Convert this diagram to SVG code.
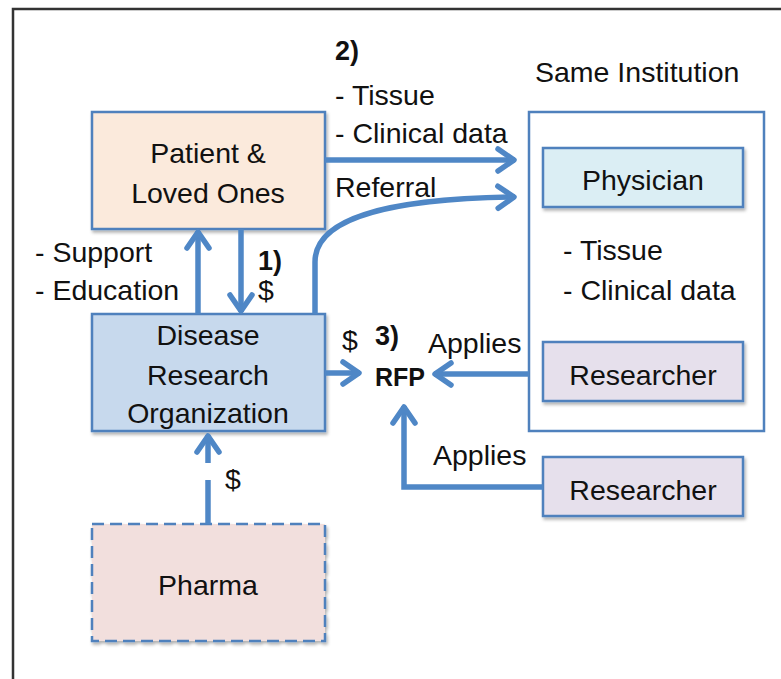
<svg xmlns="http://www.w3.org/2000/svg" width="781" height="679" viewBox="0 0 781 679">
<style>
text{font-family:"Liberation Sans",Arial,sans-serif;font-size:28.5px;fill:#111}
.b{font-weight:bold;font-size:27px}
.r{font-weight:bold;font-size:25px}
.c{text-anchor:middle}
.box{stroke:#4f81bd;stroke-width:2.5}
.ar{fill:none;stroke:#4f87c6;stroke-width:5.5}
</style>
<defs>
<filter id="sh" x="-10%" y="-10%" width="125%" height="130%">
<feDropShadow dx="1.5" dy="2.5" stdDeviation="1.5" flood-color="#000" flood-opacity="0.3"/>
</filter>
<marker id="ah" markerUnits="userSpaceOnUse" viewBox="-25 -15 30 30" refX="0" refY="0" markerWidth="30" markerHeight="30" orient="auto">
<path d="M-17,-11 L-1,0 L-17,11" fill="none" stroke="#4f87c6" stroke-width="5.5" stroke-linejoin="round" stroke-linecap="round"/>
</marker>
</defs>
<rect width="781" height="679" fill="#fff"/>
<path d="M13,679 L13,9 L781,9" fill="none" stroke="#333" stroke-width="2.5"/>

<g id="institution">
<rect x="529" y="112" width="235" height="319" fill="#fff" class="box"/>
<text x="535" y="82">Same Institution</text>
<text x="563" y="260">- Tissue</text>
<text x="563" y="300">- Clinical data</text>
</g>
<g id="patient">
<rect x="92" y="112" width="233" height="117" fill="#fbeadc" class="box" filter="url(#sh)"/>
<text class="c" x="208" y="163">Patient &amp;</text>
<text class="c" x="208" y="203">Loved Ones</text>
</g>
<g id="disease">
<rect x="92" y="314" width="233" height="117" fill="#c7d9ed" class="box" filter="url(#sh)"/>
<text class="c" x="208" y="345">Disease</text>
<text class="c" x="208" y="385">Research</text>
<text class="c" x="208" y="423">Organization</text>
</g>
<g id="pharma">
<rect x="92" y="524" width="233" height="117" fill="#f2dfdd" class="box" stroke-dasharray="12,6" filter="url(#sh)"/>
<text class="c" x="208" y="595">Pharma</text>
</g>
<g id="physician">
<rect x="543" y="148" width="200" height="59" fill="#dbeef4" class="box" filter="url(#sh)"/>
<text class="c" x="643" y="190">Physician</text>
</g>
<g id="researcher1">
<rect x="543" y="342" width="200" height="59" fill="#e6e0ec" class="box" filter="url(#sh)"/>
<text class="c" x="643" y="385">Researcher</text>
</g>
<g id="researcher2">
<rect x="543" y="457" width="200" height="59" fill="#e6e0ec" class="box" filter="url(#sh)"/>
<text class="c" x="643" y="500">Researcher</text>
</g>
<g id="rfp">
<text class="b" x="375" y="345">3)</text>
<text class="r" x="375" y="386">RFP</text>
</g>

<g id="connectors">
<path class="ar" d="M325,160 L515,160" marker-end="url(#ah)"/>
<path class="ar" d="M315,314 L315,262 C315,220 380,199 515,197" marker-end="url(#ah)"/>
<path class="ar" d="M198,314 L198,231" marker-end="url(#ah)"/>
<path class="ar" d="M241,229 L241,312" marker-end="url(#ah)"/>
<path class="ar" d="M208,524 L208,480"/>
<path class="ar" d="M208,463 L208,435" marker-end="url(#ah)"/>
<path class="ar" d="M325,373 L360,373" marker-end="url(#ah)"/>
<path class="ar" d="M529,374 L434,374" marker-end="url(#ah)"/>
<path class="ar" d="M543,487 L404,487 L404,406" marker-end="url(#ah)"/>
<text class="b" x="335" y="60">2)</text>
<text x="335" y="105">- Tissue</text>
<text x="335" y="143">- Clinical data</text>
<text x="335" y="197">Referral</text>
<text x="35" y="262">- Support</text>
<text x="35" y="300">- Education</text>
<text class="b" x="258" y="270">1)</text>
<text x="258" y="300">$</text>
<text x="342" y="350">$</text>
<text x="225" y="489">$</text>
<text x="428" y="353">Applies</text>
<text x="433" y="465">Applies</text>
</g>
</svg>
